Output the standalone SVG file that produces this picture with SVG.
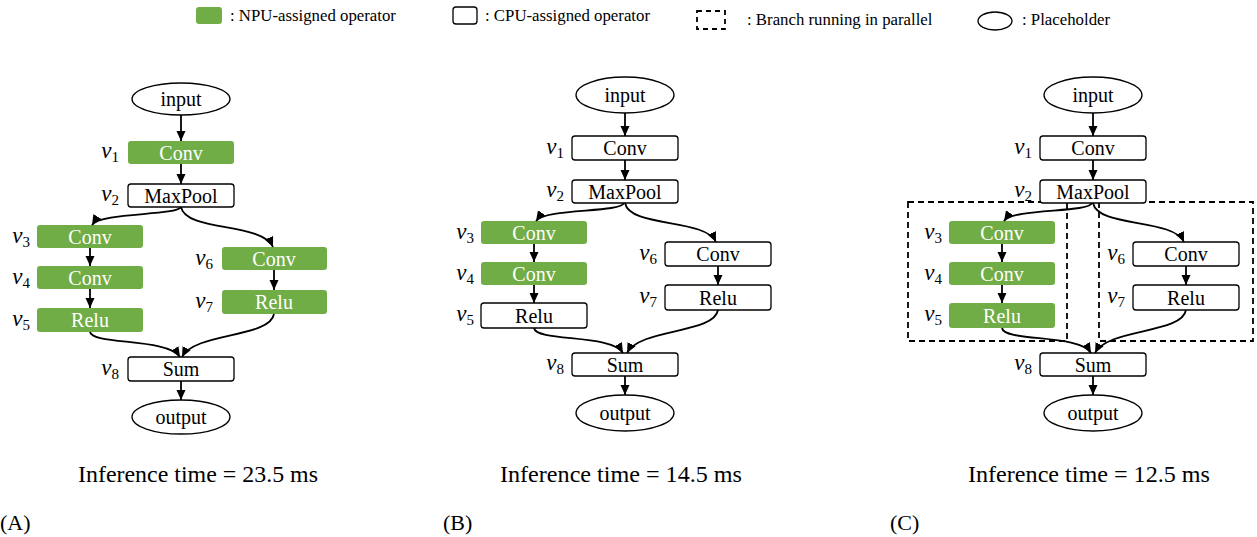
<svg xmlns="http://www.w3.org/2000/svg" width="1257" height="537" viewBox="0 0 1257 537">
  <defs>
    <marker id="arrow" viewBox="0 0 10 10" refX="10" refY="5" markerWidth="10" markerHeight="10" markerUnits="userSpaceOnUse" orient="auto">
      <path d="M0,0.5 L10,5 L0,9.5 z" fill="#000"/>
    </marker>
    <style>
      .npu { fill: #70AD47; stroke: none; }
      .cpu { fill: #fff; stroke: #000; stroke-width: 1.3; }
      .ph { fill: #fff; stroke: #000; stroke-width: 1.3; }
      .lbl { font-family: "Liberation Serif", "Times New Roman", serif; font-size: 20px; text-anchor: middle; }
      .wt { fill: #fff; }
      .bk { fill: #000; }
      .vl { font-family: "Liberation Serif", "Times New Roman", serif; text-anchor: end; fill: #000; }
      .vv { font-style: italic; font-size: 23px; }
      .vs { font-size: 15px; }
      .edge { fill: none; stroke: #000; stroke-width: 1.8; marker-end: url(#arrow); }
      .leg { font-family: "Liberation Serif", "Times New Roman", serif; font-size: 16.8px; fill: #000; }
      .cap { font-family: "Liberation Serif", "Times New Roman", serif; font-size: 23px; fill: #000; }
      .tag { font-family: "Liberation Serif", "Times New Roman", serif; font-size: 22px; fill: #000; }
      .par { fill: none; stroke: #000; stroke-width: 1.8; stroke-dasharray: 6 4; }
    </style>
  </defs>

  <!-- legend -->
  <g id="legend">
    <rect x="196" y="7" width="26" height="17" rx="3" class="npu"/>
    <text x="230" y="21" class="leg">: NPU-assigned operator</text>
    <rect x="453" y="7" width="24" height="17" rx="3" class="cpu"/>
    <text x="485" y="21" class="leg">: CPU-assigned operator</text>
    <rect x="697" y="11" width="28" height="18" class="par" stroke-width="1.4" style="stroke-dasharray:5 4"/>
    <text x="747" y="25" class="leg">: Branch running in parallel</text>
    <ellipse cx="995" cy="21" rx="17" ry="9" class="ph"/>
    <text x="1022" y="25" class="leg">: Placeholder</text>
  </g>

  <!-- ===== (A) ===== -->
  <g id="A-input"><ellipse cx="181" cy="99" rx="49" ry="16" class="ph"/><text x="181" y="106" class="lbl bk">input</text></g>
  <g id="A-v1"><rect x="128" y="141" width="106" height="23" rx="3" class="npu"/><text x="181" y="160" class="lbl wt">Conv</text>
    <text x="119" y="158" class="vl"><tspan class="vv">v</tspan><tspan class="vs" dy="4">1</tspan></text></g>
  <g id="A-v2"><rect x="128" y="184" width="106" height="23" rx="3" class="cpu"/><text x="181" y="203" class="lbl bk">MaxPool</text>
    <text x="119" y="201" class="vl"><tspan class="vv">v</tspan><tspan class="vs" dy="4">2</tspan></text></g>
  <g id="A-v3"><rect x="37" y="225" width="106" height="23" rx="3" class="npu"/><text x="90" y="244" class="lbl wt">Conv</text>
    <text x="30" y="243" class="vl"><tspan class="vv">v</tspan><tspan class="vs" dy="4">3</tspan></text></g>
  <g id="A-v4"><rect x="37" y="266" width="106" height="23" rx="3" class="npu"/><text x="90" y="285" class="lbl wt">Conv</text>
    <text x="30" y="284" class="vl"><tspan class="vv">v</tspan><tspan class="vs" dy="4">4</tspan></text></g>
  <g id="A-v5"><rect x="37" y="308" width="106" height="24" rx="3" class="npu"/><text x="90" y="327" class="lbl wt">Relu</text>
    <text x="30" y="326" class="vl"><tspan class="vv">v</tspan><tspan class="vs" dy="4">5</tspan></text></g>
  <g id="A-v6"><rect x="222" y="247" width="105" height="23" rx="3" class="npu"/><text x="274" y="266" class="lbl wt">Conv</text>
    <text x="213" y="265" class="vl"><tspan class="vv">v</tspan><tspan class="vs" dy="4">6</tspan></text></g>
  <g id="A-v7"><rect x="222" y="290" width="105" height="24" rx="3" class="npu"/><text x="274" y="309" class="lbl wt">Relu</text>
    <text x="213" y="308" class="vl"><tspan class="vv">v</tspan><tspan class="vs" dy="4">7</tspan></text></g>
  <g id="A-v8"><rect x="128" y="357" width="106" height="24" rx="3" class="cpu"/><text x="181" y="376" class="lbl bk">Sum</text>
    <text x="119" y="375" class="vl"><tspan class="vv">v</tspan><tspan class="vs" dy="4">8</tspan></text></g>
  <g id="A-output"><ellipse cx="181" cy="417" rx="49" ry="17" class="ph"/><text x="181" y="424" class="lbl bk">output</text></g>

  <g id="A-edges">
    <path d="M181,115 V141" class="edge"/>
    <path d="M181,164 V184" class="edge"/>
    <path d="M181,207 C176,216 100,212 92,225" class="edge"/>
    <path d="M181,207 C186,232 262,222 273,247" class="edge"/>
    <path d="M90,248 V266" class="edge"/>
    <path d="M90,289 V308" class="edge"/>
    <path d="M274,270 V290" class="edge"/>
    <path d="M90,332 C92,345 168,338 180,357" class="edge"/>
    <path d="M274,314 C270,338 195,332 182,357" class="edge"/>
    <path d="M181,381 V400" class="edge"/>
  </g>
  <text x="78" y="482" class="cap" textLength="240" lengthAdjust="spacingAndGlyphs">Inference time = 23.5 ms</text>
  <text x="0" y="530" class="tag">(A)</text>

  <!-- ===== (B) ===== -->
  <g id="B-input"><ellipse cx="625" cy="95" rx="49" ry="18" class="ph"/><text x="625" y="102" class="lbl bk">input</text></g>
  <g id="B-v1"><rect x="572" y="136" width="106" height="24" rx="3" class="cpu"/><text x="625" y="155" class="lbl bk">Conv</text>
    <text x="564" y="154" class="vl"><tspan class="vv">v</tspan><tspan class="vs" dy="4">1</tspan></text></g>
  <g id="B-v2"><rect x="572" y="180" width="106" height="23" rx="3" class="cpu"/><text x="625" y="199" class="lbl bk">MaxPool</text>
    <text x="564" y="197" class="vl"><tspan class="vv">v</tspan><tspan class="vs" dy="4">2</tspan></text></g>
  <g id="B-v3"><rect x="481" y="221" width="106" height="23" rx="3" class="npu"/><text x="534" y="240" class="lbl wt">Conv</text>
    <text x="474" y="239" class="vl"><tspan class="vv">v</tspan><tspan class="vs" dy="4">3</tspan></text></g>
  <g id="B-v4"><rect x="481" y="262" width="106" height="23" rx="3" class="npu"/><text x="534" y="281" class="lbl wt">Conv</text>
    <text x="474" y="280" class="vl"><tspan class="vv">v</tspan><tspan class="vs" dy="4">4</tspan></text></g>
  <g id="B-v5"><rect x="481" y="303" width="106" height="25" rx="3" class="cpu"/><text x="534" y="323" class="lbl bk">Relu</text>
    <text x="474" y="321" class="vl"><tspan class="vv">v</tspan><tspan class="vs" dy="4">5</tspan></text></g>
  <g id="B-v6"><rect x="665" y="242" width="106" height="24" rx="3" class="cpu"/><text x="718" y="261" class="lbl bk">Conv</text>
    <text x="657" y="260" class="vl"><tspan class="vv">v</tspan><tspan class="vs" dy="4">6</tspan></text></g>
  <g id="B-v7"><rect x="665" y="285" width="106" height="25" rx="3" class="cpu"/><text x="718" y="305" class="lbl bk">Relu</text>
    <text x="657" y="303" class="vl"><tspan class="vv">v</tspan><tspan class="vs" dy="4">7</tspan></text></g>
  <g id="B-v8"><rect x="572" y="353" width="106" height="23" rx="3" class="cpu"/><text x="625" y="372" class="lbl bk">Sum</text>
    <text x="564" y="370" class="vl"><tspan class="vv">v</tspan><tspan class="vs" dy="4">8</tspan></text></g>
  <g id="B-output"><ellipse cx="625" cy="413" rx="49" ry="18" class="ph"/><text x="625" y="420" class="lbl bk">output</text></g>

  <g id="B-edges">
    <path d="M625,113 V136" class="edge"/>
    <path d="M625,160 V180" class="edge"/>
    <path d="M624,203 C620,213 545,208 536,221" class="edge"/>
    <path d="M625,203 C630,228 705,218 716,242" class="edge"/>
    <path d="M534,244 V262" class="edge"/>
    <path d="M534,285 V303" class="edge"/>
    <path d="M718,266 V285" class="edge"/>
    <path d="M534,328 C536,342 612,334 623,353" class="edge"/>
    <path d="M718,310 C714,334 640,328 627,353" class="edge"/>
    <path d="M625,376 V395" class="edge"/>
  </g>
  <text x="500" y="482" class="cap" textLength="242" lengthAdjust="spacingAndGlyphs">Inference time = 14.5 ms</text>
  <text x="443" y="530" class="tag">(B)</text>

  <!-- ===== (C) ===== -->
  <g id="C-branch-left"><rect x="908" y="202" width="159" height="139" class="par"/></g>
  <g id="C-branch-right"><rect x="1099" y="202" width="154" height="139" class="par"/></g>
  <g id="C-input"><ellipse cx="1093" cy="95" rx="49" ry="18" class="ph"/><text x="1093" y="102" class="lbl bk">input</text></g>
  <g id="C-v1"><rect x="1040" y="136" width="106" height="24" rx="3" class="cpu"/><text x="1093" y="155" class="lbl bk">Conv</text>
    <text x="1032" y="154" class="vl"><tspan class="vv">v</tspan><tspan class="vs" dy="4">1</tspan></text></g>
  <g id="C-v2"><rect x="1040" y="180" width="106" height="23" rx="3" class="cpu"/><text x="1093" y="199" class="lbl bk">MaxPool</text>
    <text x="1032" y="197" class="vl"><tspan class="vv">v</tspan><tspan class="vs" dy="4">2</tspan></text></g>
  <g id="C-v3"><rect x="949" y="221" width="106" height="23" rx="3" class="npu"/><text x="1002" y="240" class="lbl wt">Conv</text>
    <text x="942" y="239" class="vl"><tspan class="vv">v</tspan><tspan class="vs" dy="4">3</tspan></text></g>
  <g id="C-v4"><rect x="949" y="262" width="106" height="23" rx="3" class="npu"/><text x="1002" y="281" class="lbl wt">Conv</text>
    <text x="942" y="280" class="vl"><tspan class="vv">v</tspan><tspan class="vs" dy="4">4</tspan></text></g>
  <g id="C-v5"><rect x="949" y="303" width="106" height="25" rx="3" class="npu"/><text x="1002" y="323" class="lbl wt">Relu</text>
    <text x="942" y="321" class="vl"><tspan class="vv">v</tspan><tspan class="vs" dy="4">5</tspan></text></g>
  <g id="C-v6"><rect x="1133" y="242" width="106" height="24" rx="3" class="cpu"/><text x="1186" y="261" class="lbl bk">Conv</text>
    <text x="1125" y="260" class="vl"><tspan class="vv">v</tspan><tspan class="vs" dy="4">6</tspan></text></g>
  <g id="C-v7"><rect x="1133" y="285" width="106" height="25" rx="3" class="cpu"/><text x="1186" y="305" class="lbl bk">Relu</text>
    <text x="1125" y="303" class="vl"><tspan class="vv">v</tspan><tspan class="vs" dy="4">7</tspan></text></g>
  <g id="C-v8"><rect x="1040" y="353" width="106" height="23" rx="3" class="cpu"/><text x="1093" y="372" class="lbl bk">Sum</text>
    <text x="1032" y="370" class="vl"><tspan class="vv">v</tspan><tspan class="vs" dy="4">8</tspan></text></g>
  <g id="C-output"><ellipse cx="1093" cy="413" rx="49" ry="18" class="ph"/><text x="1093" y="420" class="lbl bk">output</text></g>

  <g id="C-edges">
    <path d="M1093,113 V136" class="edge"/>
    <path d="M1093,160 V180" class="edge"/>
    <path d="M1092,203 C1088,213 1013,208 1004,221" class="edge"/>
    <path d="M1093,203 C1098,228 1173,218 1184,242" class="edge"/>
    <path d="M1002,244 V262" class="edge"/>
    <path d="M1002,285 V303" class="edge"/>
    <path d="M1186,266 V285" class="edge"/>
    <path d="M1002,328 C1004,342 1080,334 1091,353" class="edge"/>
    <path d="M1186,310 C1182,334 1108,328 1095,353" class="edge"/>
    <path d="M1093,376 V395" class="edge"/>
  </g>
  <text x="968" y="482" class="cap" textLength="242" lengthAdjust="spacingAndGlyphs">Inference time = 12.5 ms</text>
  <text x="890" y="530" class="tag">(C)</text>
</svg>
